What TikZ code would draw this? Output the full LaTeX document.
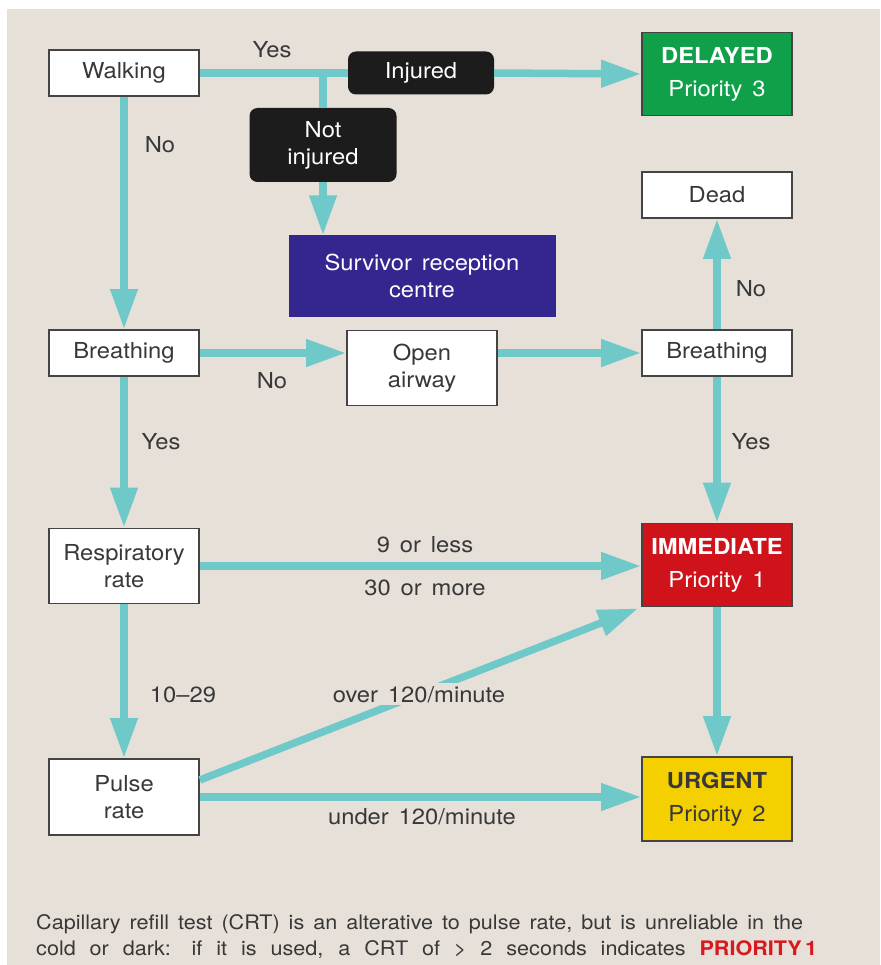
\documentclass[tikz,border=0pt]{standalone}
\usepackage{fontspec}
\setmainfont{TeX Gyre Heros}[WordSpace=1.5, FakeStretch=1.08]
\usetikzlibrary{arrows.meta}
\definecolor{bg}{HTML}{E6E0D9}
\definecolor{txt}{HTML}{383838}
\definecolor{bordc}{HTML}{444444}
\definecolor{teal1}{HTML}{6FC9C8}
\definecolor{grn}{HTML}{10A04A}
\definecolor{redp}{HTML}{D0131B}
\definecolor{yel}{HTML}{F4D000}
\definecolor{purp}{HTML}{33278F}
\definecolor{blk}{HTML}{1C1C1C}
\definecolor{redt}{HTML}{D71920}
\begin{document}
\begin{tikzpicture}[x=1pt,y=-1pt,
  every node/.style={font=\fontsize{22}{27}\selectfont, text=txt, align=center},
  box/.style={draw=bordc, line width=1.8pt, fill=white, minimum width=150pt, inner sep=0pt},
  blkbox/.style={fill=blk, text=white, rounded corners=8pt, inner sep=0pt},
  prio/.style={draw=bordc, line width=1.8pt, text=white, minimum width=150pt, inner sep=0pt,
    font=\fontsize{22}{33}\selectfont},
  lin/.style={line width=7.5pt, draw=teal1},
  arr/.style={line width=7.5pt, draw=teal1, -{Triangle[length=40pt,width=26pt]}},
  lab/.style={text=txt},
  foot/.style={text=txt, anchor=base west, inner sep=0pt, font=\fontsize{20}{26}\selectfont}
]
\fill[white] (0,0) rectangle (880,965);
\fill[bg] (7,9) rectangle (880,965);
\useasboundingbox (0,0) rectangle (880,965);

% nodes
\node[box, minimum height=46pt] (walk) at (124,73) {Walking};
\node[blkbox, minimum width=146pt, minimum height=43pt] (inj) at (421,73) {Injured};
\node[prio, fill=grn, minimum height=83pt] (del) at (717,74) {\textbf{DELAYED}\\Priority 3};
\node[blkbox, minimum width=147pt, minimum height=74pt] (notinj) at (323,145) {Not\\injured};
\node[fill=purp, text=white, minimum width=267pt, minimum height=81pt, inner sep=0pt] (surv) at (422,276) {Survivor reception\\centre};
\node[box, minimum height=46pt] (dead) at (717,195) {Dead};
\node[box, minimum height=46pt] (br1) at (124,353) {Breathing};
\node[box, minimum height=75pt] (open) at (422,368) {Open\\airway};
\node[box, minimum height=46pt] (br2) at (717,353) {Breathing};
\node[box, minimum height=75pt] (resp) at (124,566) {Respiratory\\rate};
\node[prio, fill=redp, minimum height=83pt] (imm) at (717,565) {\textbf{IMMEDIATE}\\Priority 1};
\node[box, minimum height=76pt] (pulse) at (124,797) {Pulse\\rate};
\node[prio, fill=yel, text=txt, minimum height=84pt] (urg) at (717,799) {\textbf{URGENT}\\Priority 2};

\coordinate (j) at (notinj.north |- walk.east);

% connectors
\draw[lin] (walk.east) -- (inj.west);
\draw[arr] (inj.east) -- (del.west);
\draw[lin] (j) -- (notinj.north);
\draw[arr] (notinj.south) -- (notinj.south |- surv.north);
\draw[arr] (walk.south) -- (br1.north);
\draw[arr] (br1.east) -- (open.west |- br1.east);
\draw[arr] (open.east |- br2.west) -- (br2.west);
\draw[arr] (br2.north) -- (dead.south);
\draw[arr] (br2.south) -- (imm.north);
\draw[arr] (br1.south) -- (resp.north);
\draw[arr] (resp.east) -- (resp.east -| imm.west);
\draw[arr] (resp.south) -- (pulse.north);
\draw[arr] ([yshift=17pt]pulse.east) -- node[fill=bg, inner sep=3pt, lab] {over 120/minute} ([xshift=-3pt,yshift=-1pt]imm.south west);
\draw[arr] (pulse.east) -- (pulse.east -| urg.west);
\draw[arr] (imm.south) -- (urg.north);

% labels
\node[lab] (l1) at (272,50) {Yes};
\node[lab] (l2) at (160,145) {No};
\node[lab] (l3) at (751,289) {No};
\node[lab] (l4) at (272,381) {No};
\node[lab] (l5) at (161,442) {Yes};
\node[lab] (l6) at (751,442) {Yes};
\node[lab] (l7) at (425,545) {9 or less};
\node[lab] (l8) at (425,588) {30 or more};
\node[lab] (l9) at (183,695) {10--29};
\node[lab] (l10) at (422,817) {under 120/minute};

% footnote
\node[foot] (f1) at (36,929) {Capillary refill test (CRT) is an alterative to pulse rate, but is unreliable in the};
\node[foot] (f2) at (36,955) {\makebox[781pt][s]{cold or dark: if it is used, a CRT of {>} 2 seconds indicates \textcolor{redt}{\textbf{PRIORITY\,1}}}};
\end{tikzpicture}
\end{document}
